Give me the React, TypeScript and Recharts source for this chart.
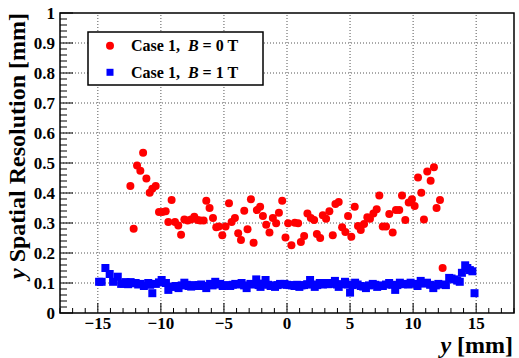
import React from 'react';
import { ScatterChart, Scatter, XAxis, YAxis, ReferenceLine, ReferenceArea } from 'recharts';

// Case 1, B = 0 T  (red circles)
const redX = [
  -12.42, -12.16, -11.89, -11.63, -11.41, -11.15, -10.89, -10.68, -10.41, -10.15,
  -9.88, -9.62, -9.41, -9.15, -8.88, -8.62, -8.4, -8.14, -7.88, -7.61,
  -7.35, -7.09, -6.88, -6.61, -6.4, -6.14, -5.87, -5.61, -5.4, -5.13,
  -4.87, -4.6, -4.39, -4.13, -3.87, -3.65, -3.39, -3.13, -2.86, -2.65,
  -2.39, -2.13, -1.91, -1.65, -1.39, -1.12, -0.86, -0.64, -0.38, -0.12,
  0.09, 0.35, 0.62, 0.88, 1.1, 1.36, 1.62, 1.89, 2.15, 2.37,
  2.63, 2.84, 3.1, 3.36, 3.63, 3.84, 4.1, 4.37, 4.63, 4.84,
  5.1, 5.37, 5.63, 5.85, 6.11, 6.37, 6.58, 6.85, 7.11, 7.32,
  7.59, 7.85, 8.11, 8.38, 8.64, 8.9, 9.12, 9.38, 9.65, 9.91,
  10.12, 10.39, 10.65, 10.86, 11.12, 11.39, 11.65, 11.86, 12.13, 12.34,
];
const redY = [
  0.423, 0.281, 0.492, 0.474, 0.534, 0.448, 0.401, 0.414, 0.423, 0.337,
  0.337, 0.339, 0.303, 0.377, 0.303, 0.292, 0.261, 0.312, 0.308, 0.312,
  0.321, 0.31, 0.308, 0.308, 0.374, 0.35, 0.317, 0.286, 0.288, 0.259,
  0.288, 0.366, 0.303, 0.317, 0.266, 0.243, 0.341, 0.279, 0.379, 0.234,
  0.343, 0.354, 0.323, 0.294, 0.268, 0.317, 0.299, 0.334, 0.374, 0.252,
  0.299, 0.226, 0.301, 0.299, 0.237, 0.257, 0.332, 0.317, 0.31, 0.263,
  0.25, 0.326, 0.314, 0.339, 0.259, 0.363, 0.37, 0.286, 0.27, 0.323,
  0.254, 0.354, 0.29, 0.277, 0.297, 0.319, 0.314, 0.332, 0.346, 0.392,
  0.288, 0.288, 0.33, 0.268, 0.343, 0.343, 0.392, 0.31, 0.368, 0.379,
  0.357, 0.452, 0.401, 0.312, 0.472, 0.441, 0.486, 0.35, 0.377, 0.15,
];

// Case 1, B = 1 T  (blue squares)
const blueX = [
  -14.9, -14.7, -14.4, -14.06, -13.79, -13.42, -13.15, -12.95, -12.8, -12.6,
  -12.4, -12.2, -12.0, -11.8, -11.6, -11.35, -11.0, -10.85, -10.68, -10.4,
  -10.15, -9.94, -9.6, -9.41, -9.2, -9.0, -8.8, -8.6, -8.35, -8.14,
  -7.95, -7.8, -7.6, -7.4, -7.2, -7.0, -6.8, -6.6, -6.4, -6.1,
  -5.9, -5.69, -5.5, -5.3, -5.1, -4.9, -4.7, -4.5, -4.3, -4.1,
  -3.85, -3.6, -3.4, -3.2, -2.9, -2.65, -2.44, -2.25, -2.1, -1.9,
  -1.7, -1.5, -1.3, -1.1, -0.95, -0.75, -0.55, -0.35, -0.2, 0.0,
  0.2, 0.4, 0.6, 0.8, 0.98, 1.15, 1.36, 1.6, 1.83, 2.0,
  2.2, 2.4, 2.6, 2.85, 3.1, 3.25, 3.45, 3.6, 3.8, 3.95,
  4.1, 4.35, 4.6, 4.8, 5.0, 5.2, 5.4, 5.6, 5.85, 6.05,
  6.26, 6.5, 6.8, 7.0, 7.15, 7.4, 7.6, 7.85, 8.1, 8.35,
  8.58, 8.75, 8.95, 9.2, 9.4, 9.6, 9.8, 10.05, 10.35, 10.6,
  10.85, 11.1, 11.35, 11.6, 11.8, 12.0, 12.3, 12.6, 12.86, 13.05,
  13.25, 13.5, 13.7, 13.87, 14.13, 14.3, 14.5, 14.7, 14.87,
];
const blueY = [
  0.104, 0.104, 0.15, 0.13, 0.104, 0.121, 0.097, 0.098, 0.103, 0.096,
  0.103, 0.099, 0.1, 0.095, 0.097, 0.09, 0.1, 0.094, 0.066, 0.097,
  0.102, 0.11, 0.1, 0.077, 0.088, 0.087, 0.09, 0.083, 0.092, 0.101,
  0.094, 0.09, 0.088, 0.093, 0.09, 0.093, 0.095, 0.09, 0.083, 0.097,
  0.092, 0.104, 0.095, 0.097, 0.09, 0.093, 0.091, 0.09, 0.094, 0.097,
  0.095, 0.1, 0.092, 0.083, 0.097, 0.095, 0.112, 0.093, 0.087, 0.098,
  0.11, 0.094, 0.09, 0.092, 0.087, 0.093, 0.097, 0.095, 0.097, 0.094,
  0.093, 0.092, 0.09, 0.094, 0.087, 0.092, 0.093, 0.096, 0.11, 0.095,
  0.087, 0.093, 0.1, 0.095, 0.1, 0.096, 0.097, 0.1, 0.107, 0.095,
  0.087, 0.096, 0.104, 0.095, 0.068, 0.093, 0.101, 0.095, 0.09, 0.088,
  0.083, 0.092, 0.097, 0.094, 0.087, 0.092, 0.09, 0.095, 0.1, 0.094,
  0.077, 0.093, 0.101, 0.096, 0.097, 0.095, 0.101, 0.097, 0.09, 0.107,
  0.098, 0.101, 0.094, 0.083, 0.092, 0.097, 0.095, 0.093, 0.117, 0.115,
  0.112, 0.108, 0.104, 0.134, 0.159, 0.15, 0.143, 0.139, 0.066,
];

const xMajor = [-15, -10, -5, 0, 5, 10, 15];
const yMajor = [0, 0.1, 0.2, 0.3, 0.4, 0.5, 0.6, 0.7, 0.8, 0.9, 1];

const xTicks = Array.from({ length: 37 }, (_, i) => i - 18);
const yTicks = Array.from({ length: 51 }, (_, i) => Math.round(i * 2) / 100);

const redData = redX.map((x, i) => ({ x, y: redY[i] }));
const blueData = blueX.map((x, i) => ({ x, y: blueY[i] }));

const FONT = '"Liberation Serif", "Times New Roman", serif';
const textStyle = { fontFamily: FONT, fontWeight: 700 } as React.CSSProperties;

const XTick = (props: any) => {
  const { x, y, payload } = props;
  const v = payload.value;
  const major = v % 5 === 0;
  return (
    <g>
      <line x1={x} x2={x} y1={y} y2={y - (major ? 10 : 5)} stroke="#000" strokeWidth={1} />
      {major && Math.abs(v) <= 15 && (
        <text x={x} y={y + 16} textAnchor="middle" style={textStyle} fontSize={17} fill="#000">
          {v < 0 ? `\u2212${-v}` : `${v}`}
        </text>
      )}
    </g>
  );
};

const YTick = (props: any) => {
  const { x, y, payload } = props;
  const v = payload.value;
  const major = Math.round(v * 100) % 10 === 0;
  return (
    <g>
      <line x1={x} x2={x + (major ? 13 : 7)} y1={y} y2={y} stroke="#000" strokeWidth={1} />
      {major && (
        <text x={x - 5} y={y} dy="0.35em" textAnchor="end" style={textStyle} fontSize={17} fill="#000">
          {String(v)}
        </text>
      )}
    </g>
  );
};

const Circle = (p: any) => <circle cx={p.cx} cy={p.cy} r={4} fill="#ff0000" />;
const Square = (p: any) => <rect x={p.cx - 4} y={p.cy - 4} width={8} height={8} fill="#0000ff" />;

export default function App() {
  return (
    <div style={{ position: 'relative', width: 519, height: 358, background: '#fff' }}>
      <style>{'body{margin:0}'}</style>
      <ScatterChart width={519} height={358} margin={{ top: 13, right: 5, left: 0, bottom: 0 }}>
        <XAxis
          type="number"
          dataKey="x"
          domain={[-18, 18]}
          ticks={xTicks}
          interval={0}
          tickSize={0}
          tickMargin={0}
          tickLine={false}
          axisLine={false}
          height={45}
          tick={<XTick />}
          allowDataOverflow
        />
        <YAxis
          type="number"
          dataKey="y"
          domain={[0, 1]}
          ticks={yTicks}
          interval={0}
          tickSize={0}
          tickMargin={0}
          tickLine={false}
          axisLine={false}
          width={60}
          tick={<YTick />}
          allowDataOverflow
        />
        {xMajor.map((v) => (
          <ReferenceLine key={'gx' + v} x={v} stroke="#555" strokeDasharray="1 2" strokeWidth={1} />
        ))}
        {yMajor.slice(1, -1).map((v) => (
          <ReferenceLine key={'gy' + v} y={v} stroke="#555" strokeDasharray="1 2" strokeWidth={1} />
        ))}
        <ReferenceArea x1={-18} x2={18} y1={0} y2={1} fill="none" fillOpacity={0} stroke="#000" strokeWidth={1.5} ifOverflow="visible" />
        <Scatter data={redData} shape={<Circle />} isAnimationActive={false} />
        <Scatter data={blueData} shape={<Square />} isAnimationActive={false} />
      </ScatterChart>
      <svg width={519} height={358} style={{ position: 'absolute', left: 0, top: 0, pointerEvents: 'none' }}>
        <text transform="rotate(-90)" x={-13} y={25} textAnchor="end" style={textStyle} fontSize={24} fill="#000">
          <tspan fontStyle="italic">y</tspan> Spatial Resolution [mm]
        </text>
        <text x={513} y={353} textAnchor="end" style={textStyle} fontSize={24} fill="#000">
          <tspan fontStyle="italic">y</tspan> [mm]
        </text>
        <rect x={88} y={32} width={175} height={53} fill="#fff" stroke="#000" strokeWidth={1.5} />
        <circle cx={110} cy={45.7} r={4} fill="#ff0000" />
        <rect x={106.5} y={68.8} width={7} height={7} fill="#0000ff" />
        <text x={131} y={51} style={textStyle} fontSize={16} fill="#000" xmlSpace="preserve">
          {'Case 1,  '}
          <tspan fontStyle="italic">B</tspan>
          {' = 0 T'}
        </text>
        <text x={131} y={77.5} style={textStyle} fontSize={16} fill="#000" xmlSpace="preserve">
          {'Case 1,  '}
          <tspan fontStyle="italic">B</tspan>
          {' = 1 T'}
        </text>
      </svg>
    </div>
  );
}
